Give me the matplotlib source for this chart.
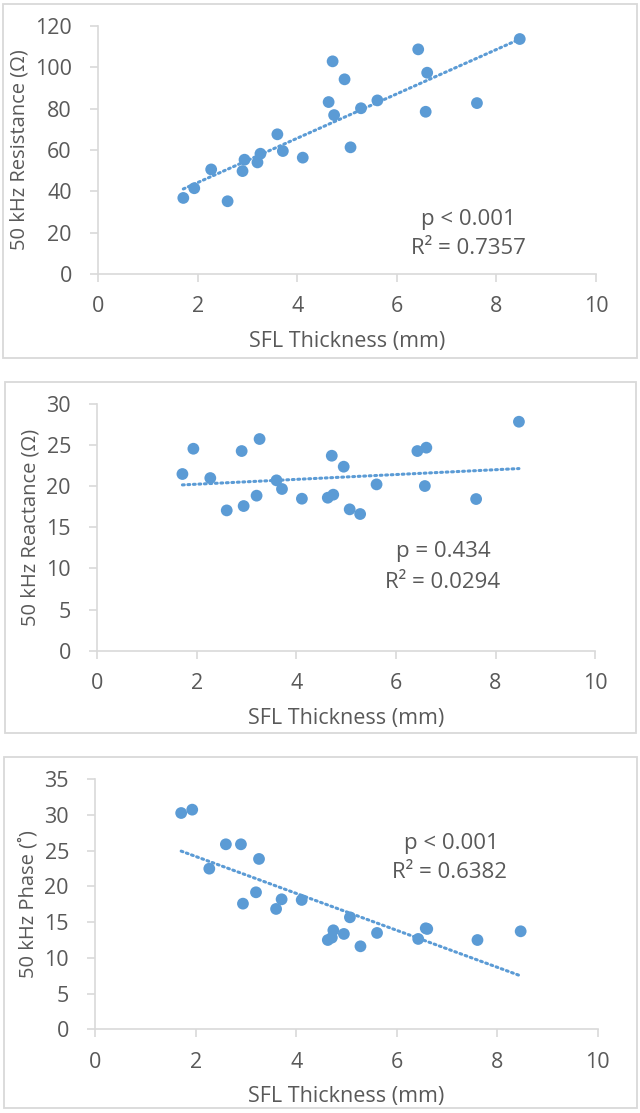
import numpy as np
import matplotlib
matplotlib.use("Agg")
import matplotlib.pyplot as plt
from matplotlib.patches import Rectangle

plt.rcParams['font.family'] = ['Open Sans', 'DejaVu Sans']

# ---- data ----
sfl_thickness = [1.71, 1.93, 2.27, 2.60, 2.90, 2.94, 3.20, 3.26, 3.60, 3.71, 4.11, 4.63,
                 4.71, 4.74, 4.95, 5.07, 5.28, 5.61, 6.43, 6.58, 6.61, 7.61, 8.47]
resistance = [36.8, 41.5, 50.6, 35.2, 49.8, 55.3, 54.0, 58.2, 67.6, 59.5, 56.3, 83.2,
              102.9, 76.9, 94.2, 61.3, 80.2, 84.0, 108.7, 78.5, 97.4, 82.7, 113.7]
reactance = [21.46, 24.53, 20.97, 17.04, 24.25, 17.57, 18.83, 25.71, 20.69, 19.64, 18.46, 18.58,
             23.68, 18.95, 22.35, 17.17, 16.60, 20.20, 24.25, 20.0, 24.66, 18.42, 27.81]
phase = [30.28, 30.75, 22.49, 25.9, 25.9, 17.59, 19.18, 23.85, 16.85, 18.20, 18.11, 12.5,
         12.83, 13.86, 13.35, 15.68, 11.62, 13.49, 12.65, 14.14, 14.05, 12.5, 13.72]

y_labels = ["50 kHz Resistance (\u03a9)", "50 kHz Reactance (\u03a9)", "50 kHz Phase (\u02da)"]
y_limits = [(0, 120, 20), (0, 30, 5), (0, 35, 5)]
x_ticks = [0, 2, 4, 6, 8, 10]
x_label = "SFL Thickness (mm)"
p_texts = ["p < 0.001", "p = 0.434", "p < 0.001"]
r2_texts = ["R\u00b2 = 0.7357", "R\u00b2 = 0.0294", "R\u00b2 = 0.6382"]

# ---- layout (pixels) ----
W, H = 640, 1113
fig = plt.figure(figsize=(W / 100, H / 100), dpi=100)

def fx(px):
    return px / W

def fy(py):
    return 1 - py / H

axes_px = [  # left, right, top, bottom
    (98.2, 595.9, 26.0, 274.0),
    (97.3, 595.1, 403.7, 650.7),
    (95.3, 597.5, 779.3, 1029.3),
]
border_px = [
    (3, 637, 4, 358),
    (5, 636, 382, 733),
    (4, 637, 757, 1108),
]
text_px = [
    ((468, 220), (468, 249)),
    ((443, 552), (443, 582)),
    ((451, 843), (450, 873)),
]

TXT = "#595959"
GRID = "#d9d9d9"
BLUE = "#5b9bd5"

series = [resistance, reactance, phase]
x = np.array(sfl_thickness)

for i in range(3):
    l, r, t, b = axes_px[i]
    ax = fig.add_axes([fx(l), fy(b), fx(r) - fx(l), fy(t) - fy(b)])
    y = np.array(series[i])
    ax.scatter(x, y, s=72, color=BLUE, edgecolors='none', zorder=3)
    k, c = np.polyfit(x, y, 1)
    xs = np.array([x.min(), x.max()])
    ax.plot(xs, k * xs + c, color=BLUE, lw=2.2, linestyle=(0, (0.6, 1.2)),
            dash_capstyle='round', zorder=2)
    lo, hi, step = y_limits[i]
    ax.set_xlim(0, 10)
    ax.set_ylim(lo, hi)
    ax.set_xticks(x_ticks)
    ax.set_yticks(np.arange(lo, hi + step / 2, step))
    for s in ['top', 'right']:
        ax.spines[s].set_visible(False)
    for s in ['left', 'bottom']:
        ax.spines[s].set_color(GRID)
        ax.spines[s].set_linewidth(1.2)
    ax.tick_params(axis='both', colors=GRID, labelcolor=TXT, labelsize=15.5,
                   length=6, width=1.2)
    ax.tick_params(axis='x', pad=10)
    ax.tick_params(axis='y', pad=13)
    ax.set_xlabel(x_label, color=TXT, fontsize=15.5, labelpad=10)
    ax.set_ylabel(y_labels[i], color=TXT, fontsize=14.5, labelpad=4)
    (px1, py1), (px2, py2) = text_px[i]
    fig.text(fx(px1), fy(py1), p_texts[i], color=TXT, fontsize=16, ha='center', va='center')
    fig.text(fx(px2), fy(py2), r2_texts[i], color=TXT, fontsize=16, ha='center', va='center')

    bl, br, bt, bb = border_px[i]
    fig.patches.append(Rectangle((fx(bl), fy(bb)), fx(br) - fx(bl), fy(bt) - fy(bb),
                                 transform=fig.transFigure, fill=False,
                                 edgecolor=GRID, linewidth=1.3))

fig.savefig("out.png", dpi=100)
